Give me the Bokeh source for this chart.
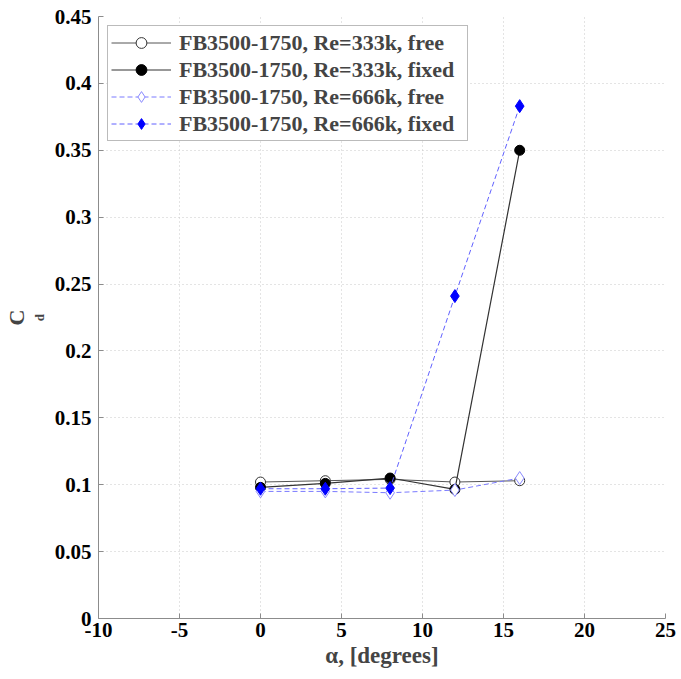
from bokeh.plotting import figure
from bokeh.models import Range1d, FixedTicker, Legend, LegendItem, LinearAxis
from bokeh.embed import file_html
from bokeh.resources import INLINE

alpha = [0, 4, 8, 12, 16]
cd_333_free = [0.102, 0.103, 0.104, 0.102, 0.103]
cd_333_fixed = [0.098, 0.101, 0.105, 0.0965, 0.350]
cd_666_free = [0.095, 0.095, 0.094, 0.096, 0.105]
cd_666_fixed = [0.097, 0.097, 0.0975, 0.241, 0.383]

labels = [
    "FB3500-1750, Re=333k, free",
    "FB3500-1750, Re=333k, fixed",
    "FB3500-1750, Re=666k, free",
    "FB3500-1750, Re=666k, fixed",
]
x_ticks = [-10, -5, 0, 5, 10, 15, 20, 25]
x_tick_labels = ["-10", "-5", "0", "5", "10", "15", "20", "25"]
y_ticks = [0, 0.05, 0.1, 0.15, 0.2, 0.25, 0.3, 0.35, 0.4, 0.45]
y_tick_labels = ["0", "0.05", "0.1", "0.15", "0.2", "0.25", "0.3", "0.35", "0.4", "0.45"]

FONT = "Liberation Serif"

p = figure(width=681, height=679, output_backend="svg", toolbar_location=None,
           x_range=Range1d(-10, 25), y_range=Range1d(0, 0.45),
           min_border_left=97, min_border_right=16, min_border_top=16, min_border_bottom=61)
p.outline_line_color = None
p.background_fill_color = "white"

for ax in (p.xaxis[0], p.yaxis[0]):
    ax.axis_line_color = "#8c8c8c"
    ax.major_tick_line_color = "#8c8c8c"
    ax.major_tick_in = 5
    ax.major_tick_out = 0
    ax.minor_tick_line_color = None
    ax.major_label_text_font = FONT
    ax.major_label_text_font_style = "bold"
    ax.major_label_text_font_size = "21px"
    ax.major_label_text_color = "black"

p.xaxis.ticker = FixedTicker(ticks=x_ticks)
p.yaxis.ticker = FixedTicker(ticks=y_ticks)
p.xaxis.major_label_overrides = dict(zip(x_ticks, x_tick_labels))
p.yaxis.major_label_overrides = dict(zip(y_ticks, y_tick_labels))
p.xaxis.major_label_standoff = 4
p.yaxis.major_label_standoff = 7
p.xaxis.axis_label = "\u03b1, [degrees]"
p.xaxis.axis_label_text_font = FONT
p.xaxis.axis_label_text_font_style = "bold"
p.xaxis.axis_label_text_font_size = "23px"
p.xaxis.axis_label_standoff = 3

# subscript "d" of C_d on the main y axis
p.yaxis.axis_label = "d"
p.yaxis.axis_label_text_font = FONT
p.yaxis.axis_label_text_font_style = "bold"
p.yaxis.axis_label_text_font_size = "13px"
p.yaxis.axis_label_standoff = 5
p.yaxis.axis_label_text_align = "right"

# "C" of C_d on an outer, otherwise empty axis
c_axis = LinearAxis(ticker=FixedTicker(ticks=[]), axis_line_color=None,
                    major_tick_line_color=None, minor_tick_line_color=None,
                    axis_label="C", axis_label_text_font=FONT,
                    axis_label_text_font_style="bold", axis_label_text_font_size="22px",
                    axis_label_standoff=0)
p.add_layout(c_axis, "left")

for g in (p.xgrid[0], p.ygrid[0]):
    g.grid_line_color = "#c8c8c8"
    g.grid_line_dash = "1 3"
    g.grid_line_width = 1

# series
l1 = p.line(alpha, cd_333_free, line_color="#555555", line_width=1)
m1 = p.scatter(alpha, cd_333_free, marker="circle", size=10, fill_color="white",
               line_color="#333333", line_width=1)
l2 = p.line(alpha, cd_333_fixed, line_color="#333333", line_width=1.2)
m2 = p.scatter(alpha, cd_333_fixed, marker="circle", size=10, fill_color="black",
               line_color="black")
l3 = p.line(alpha, cd_666_free, line_color="#7a7aff", line_width=1, line_dash="5 3")
m3 = p.scatter(alpha, cd_666_free, marker="diamond", size=13, fill_color="white",
               line_color="#8a8aff", line_width=1)
l4 = p.line(alpha, cd_666_fixed, line_color="#6060ff", line_width=1, line_dash="5 3")
m4 = p.scatter(alpha, cd_666_fixed, marker="diamond", size=13, fill_color="#0000ff",
               line_color="#0000ff")

legend = Legend(items=[
    LegendItem(label=labels[0], renderers=[l1, m1]),
    LegendItem(label=labels[1], renderers=[l2, m2]),
    LegendItem(label=labels[2], renderers=[l3, m3]),
    LegendItem(label=labels[3], renderers=[l4, m4]),
], location="top_left")
legend.margin = 9
legend.padding = 3
legend.spacing = 0
legend.glyph_width = 60
legend.label_height = 27
legend.glyph_height = 27
legend.label_width = 285
legend.label_text_font = FONT
legend.label_text_font_style = "bold"
legend.label_text_font_size = "22px"
legend.label_standoff = 8
legend.border_line_color = "#777777"
legend.border_line_width = 1
legend.background_fill_alpha = 1
p.add_layout(legend, "center")

open("out.html", "w").write(file_html(p, INLINE))
